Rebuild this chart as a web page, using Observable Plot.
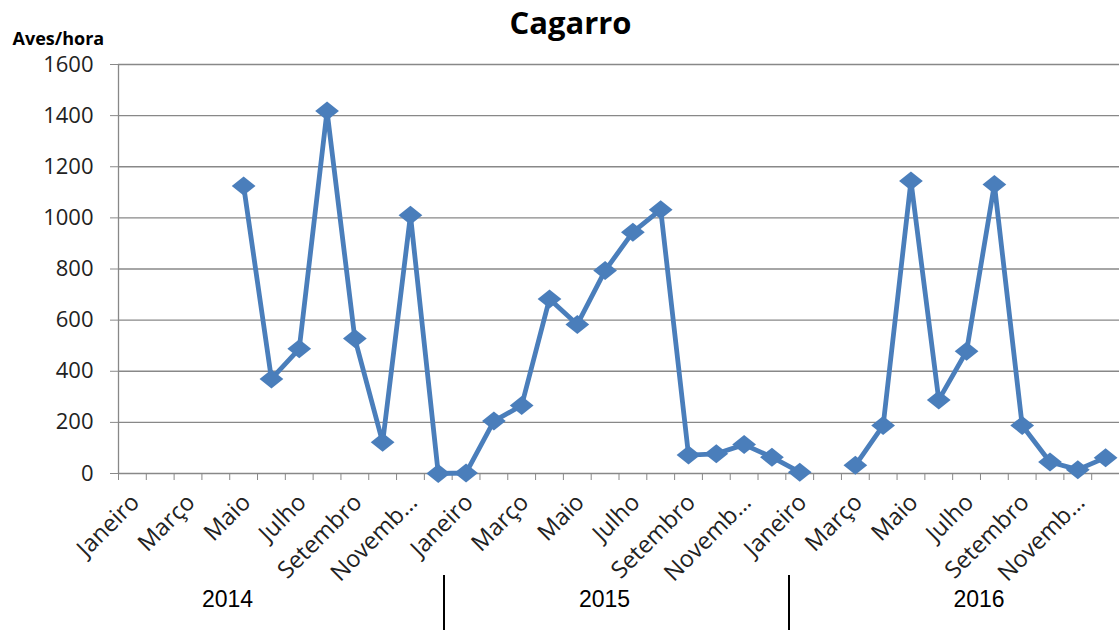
<!DOCTYPE html>
<html>
<head>
<meta charset="utf-8">
<script src="https://cdn.jsdelivr.net/npm/d3@7"></script>
<script src="https://cdn.jsdelivr.net/npm/@observablehq/plot@0.6"></script>
<style>
  html, body { margin: 0; padding: 0; background: #fff; overflow: hidden; }
  #chart { width: 1119px; height: 630px; position: relative; }
  .year-row { display: flex; height: 55px; width: 1200px; font-family: "Liberation Sans", Arial, sans-serif; font-size: 23px; color: #000; }
  .year-row div { box-sizing: border-box; text-align: center; line-height: 48px; }
  .year-row div + div { border-left: 2px solid #000; }
</style>
</head>
<body>
<div id="chart"></div>
<script>
// Cagarro sightings, birds per hour, monthly 2014–2016
const years = [2014, 2015, 2016];
const months = ["Janeiro", "Fevereiro", "Março", "Abril", "Maio", "Junho",
                "Julho", "Agosto", "Setembro", "Outubro", "Novembro", "Dezembro"];
const tickLabels = ["Janeiro", "Março", "Maio", "Julho", "Setembro", "Novemb…"];
const values2014 = [null, null, null, null, 1125, 370, 488, 1418, 528, 122, 1010, 0];
const values2015 = [2, 205, 266, 683, 583, 794, 944, 1032, 72, 77, 113, 64];
const values2016 = [5, null, 32, 188, 1144, 288, 478, 1131, 188, 45, 15, 62];
const yTicks = [0, 200, 400, 600, 800, 1000, 1200, 1400, 1600];

const series = [values2014, values2015, values2016];
const rows = years.flatMap((year, yi) =>
  months.map((month, mi) => ({
    i: yi * 12 + mi,
    year, month,
    value: series[yi][mi]
  }))
);
const labelRows = rows
  .filter(d => d.i % 2 === 0)
  .map(d => ({i: d.i, label: tickLabels[(d.i % 12) / 2]}));
const boundaries = d3.range(0, rows.length + 1);

const blue = "#4a7ebb";
const gray = "#888888";
const font = "'Open Sans', Lato, sans-serif";

// Excel-style flat diamond marker
const diamond = {
  draw(ctx, size) {
    const r = Math.sqrt(size / Math.PI);
    const w = r * 1.25, h = r;
    ctx.moveTo(0, -h); ctx.lineTo(w, 0); ctx.lineTo(0, h); ctx.lineTo(-w, 0); ctx.closePath();
  }
};

const chart = Plot.plot({
  width: 1119,
  height: 575,
  marginLeft: 118,
  marginRight: 0,
  marginTop: 64,
  marginBottom: 102,
  style: {fontFamily: font, background: "#fff", overflow: "visible"},
  x: {type: "linear", domain: [0, rows.length], axis: null},
  y: {domain: [0, 1600], axis: null},
  marks: [
    Plot.gridY(yTicks, {stroke: gray, strokeOpacity: 1, strokeWidth: 1.3}),
    Plot.ruleX([0], {stroke: gray, strokeWidth: 1.3}),
    Plot.axisY({ticks: yTicks, tickFormat: d => String(d), tickSize: 8, tickPadding: 17, fontSize: 22, stroke: gray, strokeOpacity: 1, color: "#222", label: null}),
    Plot.axisX({ticks: boundaries, tickFormat: () => "", tickSize: 7, stroke: gray, strokeOpacity: 1, label: null}),
    Plot.text(labelRows, {
      x: d => d.i + 0.5, text: "label", frameAnchor: "bottom",
      rotate: -45, textAnchor: "end", lineAnchor: "middle",
      dx: 3, dy: 25, fontSize: 23.5, fill: "#222"
    }),
    Plot.line(rows, {x: d => d.i + 0.5, y: "value", stroke: blue, strokeWidth: 4.8, strokeLinejoin: "miter"}),
    Plot.dot(rows.filter(d => d.value != null), {x: d => d.i + 0.5, y: "value", symbol: diamond, r: 9.5, fill: blue, stroke: "none"}),
    Plot.text(["Cagarro"], {frameAnchor: "top-left", dx: 452, dy: -31, lineAnchor: "bottom", textAnchor: "middle", fontSize: 31, fontWeight: "bold", fill: "#000"}),
    Plot.text(["Aves/hora"], {frameAnchor: "top-left", dx: -106, dy: -20, lineAnchor: "bottom", textAnchor: "start", fontSize: 18, fontWeight: "bold", fill: "#000"})
  ]
});

const root = document.getElementById("chart");
root.appendChild(chart);

// Year row beneath the month labels
const yearRow = document.createElement("div");
yearRow.className = "year-row";
const cellStyles = [
  "width:443px;padding-left:12px",
  "width:345px;padding-right:24px",
  "width:380px"
];
years.forEach((y, k) => {
  const cell = document.createElement("div");
  cell.setAttribute("style", cellStyles[k]);
  cell.textContent = y;
  yearRow.appendChild(cell);
});
root.appendChild(yearRow);
</script>
</body>
</html>
